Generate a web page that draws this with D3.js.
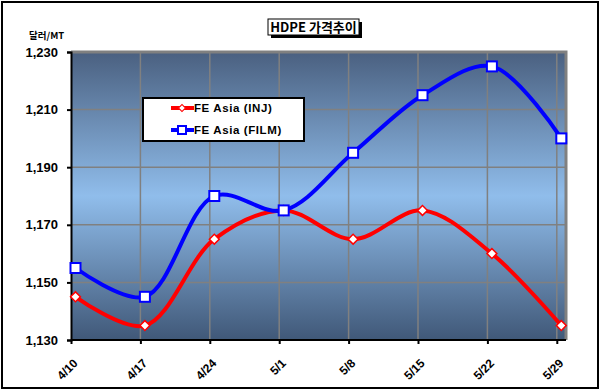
<!DOCTYPE html>
<html><head><meta charset="utf-8">
<script src="https://cdn.jsdelivr.net/npm/d3@7"></script>
<style>body{margin:0;background:#fff}svg{display:block}</style>
</head><body>
<script>
const categories = ["4/10","4/17","4/24","5/1","5/8","5/15","5/22","5/29"];
const injValues = [1145,1135,1165,1175,1165,1175,1160,1135];
const filmValues = [1155,1145,1180,1175,1195,1215,1225,1200];
const yTicks = [1130,1150,1170,1190,1210,1230];
const seriesNames = ["FE Asia (INJ)","FE Asia (FILM)"];

const W=602,H=390;
const svg=d3.select("body").append("svg").attr("width",W).attr("height",H);
const font="'Liberation Sans', Arial, sans-serif";
svg.append("rect").attr("x",2).attr("y",2).attr("width",596).attr("height",386).attr("fill","#fff").attr("stroke","#000").attr("stroke-width",2);

const L=71,T=52,R=566,B=340;
const step=69.4;
const x=d3.scalePoint().domain(categories).range([L+4.5,L+4.5+step*7]);
const y=d3.scaleLinear().domain([1130,1230]).range([B,T]);

const defs=svg.append("defs");
const g=defs.append("linearGradient").attr("id","bg").attr("x1",0).attr("x2",0).attr("y1",0).attr("y2",1);
[[0,"#4a6080"],[0.5,"#90bdeb"],[1,"#405878"]].forEach(s=>g.append("stop").attr("offset",s[0]).attr("stop-color",s[1]));
svg.append("rect").attr("x",L).attr("y",T).attr("width",R-L).attr("height",B-T).attr("fill","url(#bg)");

// gridlines
const gg=svg.append("g");
yTicks.slice(1,-1).forEach(v=>gg.append("line").attr("x1",L).attr("x2",R).attr("y1",y(v)).attr("y2",y(v)).attr("stroke","#808080").attr("stroke-width",1.5));
categories.forEach((c,i)=>{ if(i>0) gg.append("line").attr("x1",x(c)-4.5).attr("x2",x(c)-4.5).attr("y1",T).attr("y2",B).attr("stroke","#808080").attr("stroke-width",1.5);});
svg.append("path").attr("d",`M${L},${T}H${R}V${B}`).attr("fill","none").attr("stroke","#808080").attr("stroke-width",3);

// axes
const ya=svg.append("g").attr("transform",`translate(${L},0)`).call(d3.axisLeft(y).tickValues(yTicks).tickSize(4).tickFormat(d3.format(",")));
ya.select(".domain").attr("stroke","#000").attr("stroke-width",2);
ya.selectAll("line").attr("stroke","#000").attr("stroke-width",2);
ya.selectAll("text").attr("x",-13).attr("font-family",font).attr("font-weight","bold").attr("font-size",13).attr("fill","#000");

const xa=svg.append("g").attr("transform",`translate(0,${B})`).call(d3.axisBottom(d3.scaleLinear().domain([0,7]).range([L,L+step*7])).tickValues(d3.range(8)).tickSize(4).tickFormat(()=>""));
xa.select(".domain").attr("d",`M${L},0H${R}`).attr("stroke","#000").attr("stroke-width",2);
xa.selectAll("line").attr("stroke","#000").attr("stroke-width",2);
svg.append("g").selectAll("text").data(categories).join("text")
  .attr("transform",d=>`translate(${x(d)+3},${B+24}) rotate(-45)`)
  .attr("text-anchor","end").attr("font-family",font).attr("font-weight","bold").attr("font-size",12).attr("fill","#000").text(d=>d);

// lines
const line=d3.line().x((d,i)=>x(categories[i])).y(d=>y(d)).curve(d3.curveCatmullRom.alpha(0.5));
svg.append("path").attr("d",line(injValues)).attr("fill","none").attr("stroke","#ff0000").attr("stroke-width",4);
svg.append("path").attr("d",line(filmValues)).attr("fill","none").attr("stroke","#0000ff").attr("stroke-width",4);
svg.append("g").selectAll("rect").data(injValues).join("rect")
  .attr("x",-3.5).attr("y",-3.5).attr("width",7).attr("height",7)
  .attr("transform",(d,i)=>`translate(${x(categories[i])},${y(d)}) rotate(45)`)
  .attr("fill","#fff").attr("stroke","#ff0000").attr("stroke-width",1.5);
svg.append("g").selectAll("rect").data(filmValues).join("rect")
  .attr("x",(d,i)=>x(categories[i])-5).attr("y",d=>y(d)-5).attr("width",10).attr("height",10)
  .attr("fill","#fff").attr("stroke","#0000ff").attr("stroke-width",2);

// legend
const lg=svg.append("g");
lg.append("rect").attr("x",143).attr("y",98).attr("width",161).attr("height",43).attr("fill","#fff").attr("stroke","#000").attr("stroke-width",2);
lg.append("line").attr("x1",171).attr("x2",194).attr("y1",108).attr("y2",108).attr("stroke","#ff0000").attr("stroke-width",4);
lg.append("rect").attr("x",-2.5).attr("y",-2.5).attr("width",5).attr("height",5).attr("transform","translate(182,108) rotate(45)").attr("fill","#fff").attr("stroke","#ff0000").attr("stroke-width",1);
lg.append("line").attr("x1",171).attr("x2",194).attr("y1",130).attr("y2",130).attr("stroke","#0000ff").attr("stroke-width",4);
lg.append("rect").attr("x",178).attr("y",126).attr("width",8).attr("height",8).attr("fill","#fff").attr("stroke","#0000ff").attr("stroke-width",2);
lg.selectAll("text").data(seriesNames).join("text").attr("x",194).attr("y",(d,i)=>112+i*22)
  .attr("font-family",font).attr("font-size",11.5).attr("font-weight","bold").attr("letter-spacing",0.6).attr("fill","#000").text(d=>d);

// title
svg.append("rect").attr("x",271).attr("y",22).attr("width",91).attr("height",16).attr("fill","#000");
svg.append("rect").attr("x",268).attr("y",19).attr("width",91).attr("height",16).attr("fill","#fff").attr("stroke","#000").attr("stroke-width",1);
svg.append("text").attr("x",313.5).attr("y",32).attr("text-anchor","middle").attr("font-family","'Noto Sans CJK KR', sans-serif").attr("font-size",13).attr("font-weight","bold").attr("fill","#000").text("HDPE 가격추이");

// unit label
svg.append("text").attr("x",29).attr("y",39).attr("font-family","'Noto Sans CJK KR', sans-serif").attr("font-size",9.5).attr("font-weight","bold").attr("fill","#000").text("달러/MT");
</script>
</body></html>
